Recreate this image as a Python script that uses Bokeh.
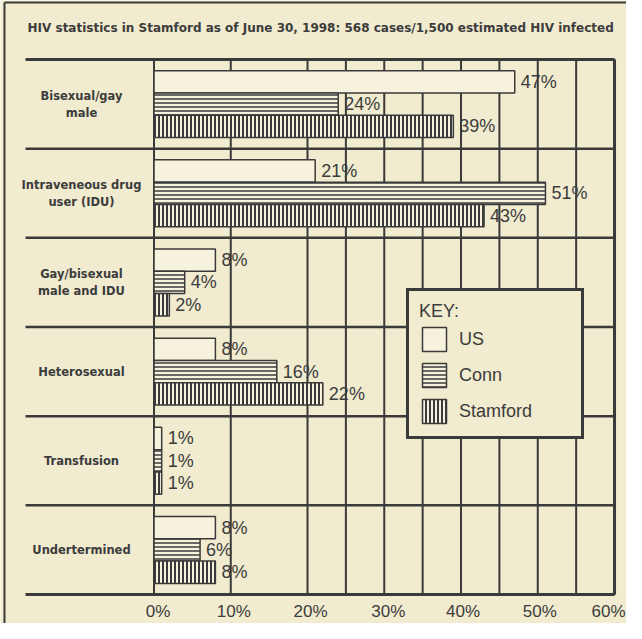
from bokeh.plotting import figure
from bokeh.models import ColumnDataSource, Range1d, Legend, LegendItem
from bokeh.core.properties import value
from bokeh.embed import file_html
from bokeh.resources import INLINE

# ---------------- data ----------------
categories = ["Bisexual/gay\nmale", "Intraveneous drug\nuser (IDU)", "Gay/bisexual\nmale and IDU",
              "Heterosexual", "Transfusion", "Undertermined"]
series = ["US", "Conn", "Stamford"]
us_values = [47, 21, 8, 8, 1, 8]
conn_values = [24, 51, 4, 16, 1, 6]
stamford_values = [39, 43, 2, 22, 1, 8]
tick_values = [0, 10, 20, 30, 40, 50, 60]
tick_labels = ["0%", "10%", "20%", "30%", "40%", "50%", "60%"]
grid_values = [0, 10, 20, 25, 30, 35, 40, 45, 50, 55, 60]
subtitle = "HIV statistics in Stamford as of June 30, 1998: 568 cases/1,500 estimated HIV infected"

# ---------------- style ----------------
BG = "#f1ebcf"
BAR_BG = "#f6f2de"
DARK = "#3a3a3a"
TXT = "#3c3c3c"
FONT = "Liberation Sans"
BOLD_FONT = "DejaVu Sans"

W, H = 626, 623
n = len(categories)

p = figure(width=W, height=H, x_range=Range1d(-20.0, 61.56), y_range=Range1d(6.325, -0.662),
           x_axis_type=None, y_axis_type=None, output_backend="svg", toolbar_location=None,
           min_border=0)
p.grid.visible = False
p.outline_line_color = None
p.background_fill_color = BG
p.border_fill_color = BG

# outer frame (left and top edges)
p.segment(x0=[-19.48, -19.48], y0=[-0.639, -0.639], x1=[-19.48, 61.56], y1=[6.325, -0.639],
          line_color=DARK, line_width=2)

# subtitle
p.text(x=[-16.48], y=[-0.348], text=[subtitle], text_font=value(BOLD_FONT), text_font_style="bold",
       text_font_size="12px", text_color=TXT, text_baseline="middle", text_align="left")

# vertical grid lines
rows_top = 0
rows_bottom = n
p.segment(x0=grid_values, y0=[rows_top] * len(grid_values), x1=grid_values,
          y1=[rows_bottom] * len(grid_values), line_color=DARK, line_width=2)
p.segment(x0=[60], y0=[rows_top], x1=[60], y1=[rows_bottom], line_color=DARK, line_width=3)

# horizontal separators between categories
sep_y = list(range(n + 1))
sep_w = [3] + [2.5] * (n - 1) + [3]
p.segment(x0=[-16.74] * len(sep_y), y0=sep_y, x1=[60] * len(sep_y), y1=sep_y,
          line_color=DARK, line_width=sep_w)

# category labels
p.text(x=[-9.45] * n, y=[i + 0.5 for i in range(n)], text=categories, text_font=value(BOLD_FONT),
       text_font_style="bold", text_font_size="11.5px", text_color=TXT,
       text_align="center", text_baseline="middle", text_line_height=1.2)

# bars
offsets = [-0.25, 0.0, 0.25]
styles = [
    dict(),
    dict(hatch_pattern="horizontal_line", hatch_scale=4, hatch_weight=1.5, hatch_color=DARK),
    dict(hatch_pattern="vertical_line", hatch_scale=4, hatch_weight=2, hatch_color=DARK),
]
renderers = []
for k, vals in enumerate([us_values, conn_values, stamford_values]):
    src = ColumnDataSource(dict(y=[i + 0.5 + offsets[k] for i in range(n)], right=vals,
                                label=[f"{v}%" for v in vals]))
    r = p.hbar(y="y", left=0, right="right", height=0.25, source=src, fill_color=BAR_BG,
               line_color=DARK, line_width=1.5, **styles[k])
    renderers.append(r)
    p.text(x="right", y="y", text="label", source=src, x_offset=6, text_font=value(FONT),
           text_font_size="18px", text_color=TXT, text_baseline="middle", text_align="left")

# x tick labels
tick_src = ColumnDataSource(dict(x=tick_values, y=[6.19] * len(tick_values), text=tick_labels,
                                 dx=[4, 3, 3, 4, 2, 2, -6]))
p.text(x="x", y="y", text="text", x_offset="dx", source=tick_src,
       text_font=value(FONT), text_font_size="17px", text_color=TXT,
       text_align="center", text_baseline="middle")

legend = Legend(items=[LegendItem(label=s, renderers=[r]) for s, r in zip(series, renderers)],
                location=(406, 184), title="KEY:", title_text_font=FONT, title_text_font_size="18px",
                title_text_font_style="normal", title_text_color=TXT, title_standoff=2,
                label_text_font=FONT, label_text_font_size="18px", label_text_color=TXT,
                glyph_width=30, glyph_height=30, label_standoff=10, spacing=6, padding=10,
                label_width=112, margin=0,
                border_line_color=DARK, border_line_width=3, border_line_alpha=1.0,
                background_fill_color=BG, background_fill_alpha=1.0)
p.add_layout(legend)

open("out.html", "w").write(file_html(p, INLINE))
